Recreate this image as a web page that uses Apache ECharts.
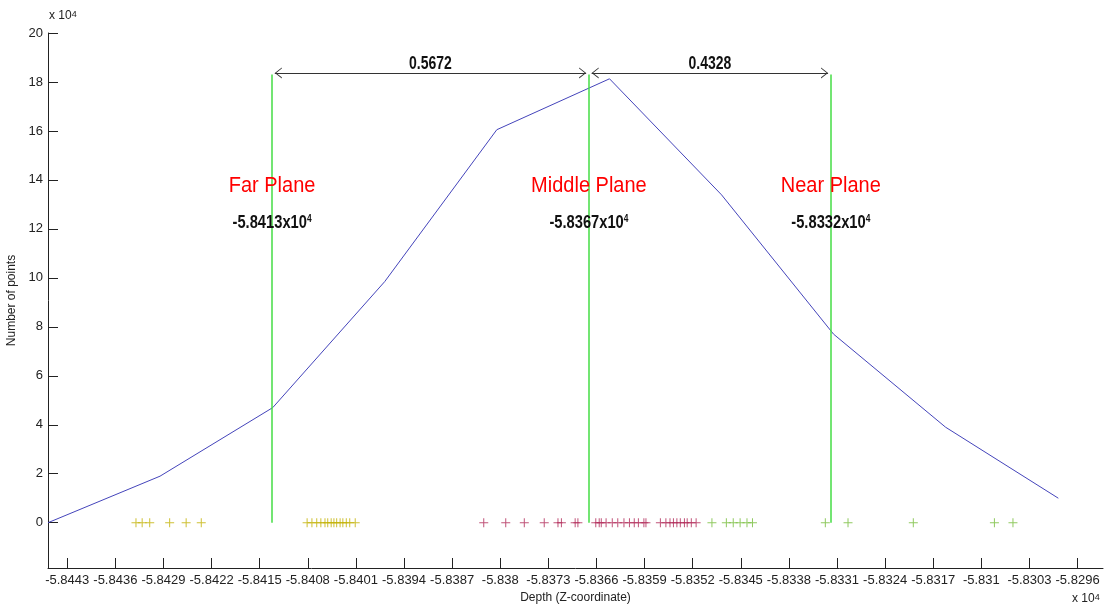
<!DOCTYPE html>
<html><head><meta charset="utf-8">
<script src="https://cdn.jsdelivr.net/npm/echarts@6/dist/echarts.min.js"></script>
<style>html,body{margin:0;padding:0;background:#fff}#c{width:1107px;height:613px}</style>
</head><body><div id="c"></div>
<script>
// ---- data (depth values in units of x10^4, counts in units of x10^4) ----
const xTickLabels = ['-5.8443','-5.8436','-5.8429','-5.8422','-5.8415','-5.8408','-5.8401','-5.8394','-5.8387','-5.838','-5.8373','-5.8366','-5.8359','-5.8352','-5.8345','-5.8338','-5.8331','-5.8324','-5.8317','-5.831','-5.8303','-5.8296'];
const yTickLabels = ['0','2','4','6','8','10','12','14','16','18','20'];
const binDepths = [-5.84458,-5.84295,-5.84131,-5.83968,-5.83805,-5.83641,-5.83478,-5.83315,-5.83152,-5.82988];
const pointCounts = [0,1.9,4.7,9.85,16.05,18.13,13.39,7.7,3.9,1.0];
const farCluster = [-5.8433,-5.84321,-5.8431,-5.84281,-5.84257,-5.84235,-5.84081,-5.84074,-5.84067,-5.84061,-5.84055,-5.84051,-5.84046,-5.84042,-5.84038,-5.84033,-5.84029,-5.84024,-5.84019,-5.84011];
const middleCluster = [-5.83824,-5.83792,-5.83765,-5.83736,-5.83716,-5.83711,-5.83691,-5.83687,-5.83661,-5.83656,-5.83653,-5.83646,-5.83637,-5.83629,-5.8362,-5.83612,-5.83605,-5.83599,-5.83591,-5.83588,-5.83567,-5.83559,-5.83553,-5.83548,-5.83543,-5.83538,-5.83532,-5.83528,-5.83522,-5.83515];
const nearCluster = [-5.83492,-5.83471,-5.83461,-5.83451,-5.83441,-5.83433,-5.83327,-5.83294,-5.83199,-5.83081,-5.83054];
const planeNames = ['Far Plane','Middle Plane','Near Plane'];
const planeDepths = [-5.84132,-5.83671,-5.83319];
const planeValueLabels = ['-5.8413x10','-5.8367x10','-5.8332x10'];
const gapLabels = ['0.5672','0.4328'];

// ---- chart ----
const FONT = "'Liberation Sans', Arial, sans-serif";
const xTickValues = xTickLabels.map(Number);
const yTickValues = yTickLabels.map(Number);
const plus = 'path://M4,0H5V4H9V5H5V9H4V5H0V4H4Z';
// open chevron whose tip sits at the symbol centre (invisible point extends the box)
const chevron = 'path://M0,10L5,0L10,10L9,10L5,2L1,10ZM5,-10L5.01,-10L5,-10Z';
const zeroLine = arr => arr.map(v => [v, 0]);
const PLANE_TOP = 18.3, ARROW_Y = 18.37, ARROW_GAP = 0.00004;
const NAME_Y = 13.75, VALUE_Y = 12.25;

const chart = echarts.init(document.getElementById('c'), null, {renderer:'canvas'});
const expRich = {a: {fontFamily: FONT, fontSize: 12, fill: '#222', verticalAlign: 'bottom'}, b: {fontFamily: FONT, fontSize: 9, fill: '#222', verticalAlign: 'top'}};
const baseGraphic = [
  {type: 'text', left: 49, top: 10, style: {text: '{a|x 10}{b|4}', rich: expRich}},
  {type: 'text', left: 1072, top: 593, style: {text: '{a|x 10}{b|4}', rich: expRich}}
];
const option = {
  animation: false,
  backgroundColor: '#fff',
  grid: {left: 48, right: 4, top: 33, bottom: 45, containLabel: false, outerBoundsMode: 'none'},
  xAxis: {
    type: 'value', min: -5.84458, max: -5.82923,
    name: 'Depth (Z-coordinate)', nameLocation: 'middle', nameGap: 24,
    nameTextStyle: {fontFamily: FONT, fontSize: 12, color: '#222'},
    axisLine: {onZero: false, lineStyle: {color: '#222', width: 1}},
    axisTick: {inside: true, length: 10, customValues: xTickValues, lineStyle: {color: '#222'}},
    axisLabel: {customValues: xTickValues, margin: 6, fontFamily: FONT, fontSize: 13, color: '#222',
      formatter: v => { let i = xTickValues.findIndex(t => Math.abs(t - v) < 1e-7); return i >= 0 ? xTickLabels[i] : ''; }},
    splitLine: {show: false}
  },
  yAxis: {
    type: 'value', min: -1.85, max: 20,
    name: 'Number of points', nameLocation: 'middle', nameGap: 26,
    nameTextStyle: {fontFamily: FONT, fontSize: 12, color: '#222'},
    axisLine: {onZero: false, lineStyle: {color: '#222', width: 1}},
    axisTick: {inside: true, length: 10, customValues: yTickValues, lineStyle: {color: '#222'}},
    axisLabel: {customValues: yTickValues, margin: 5, fontFamily: FONT, fontSize: 13, color: '#222',
      formatter: v => String(Math.round(v))},
    splitLine: {show: false}
  },
  graphic: baseGraphic,
  series: [
    {type: 'scatter', data: zeroLine(farCluster), symbol: plus, symbolSize: 9, itemStyle: {color: '#c2b000'}, z: 3},
    {type: 'scatter', data: zeroLine(middleCluster), symbol: plus, symbolSize: 9, itemStyle: {color: '#b02858'}, z: 3},
    {type: 'scatter', data: zeroLine(nearCluster), symbol: plus, symbolSize: 9, itemStyle: {color: '#74bb38'}, z: 3},
    {
      type: 'line', data: binDepths.map((d, i) => [d, pointCounts[i]]),
      showSymbol: false, symbol: 'none', lineStyle: {color: '#4444bb', width: 1}, z: 4,
      markLine: {
        silent: true, symbol: 'none', animation: false,
        lineStyle: {color: '#44dd44', width: 1.5, type: 'solid'}, label: {show: false},
        data: planeDepths.map(d => [{coord: [d, 0]}, {coord: [d, PLANE_TOP]}])
      }
    },
    {
      type: 'scatter', symbolSize: 0, silent: true, z: 5, data: [],
      markLine: {
        silent: true, animation: false, symbol: [chevron, chevron], symbolSize: [11, 14],
        lineStyle: {color: '#333', width: 1, type: 'solid'}, label: {show: false},
        data: [
          [{coord: [planeDepths[0] + ARROW_GAP, ARROW_Y]}, {coord: [planeDepths[1] - ARROW_GAP, ARROW_Y]}],
          [{coord: [planeDepths[1] + ARROW_GAP, ARROW_Y]}, {coord: [planeDepths[2] - ARROW_GAP, ARROW_Y]}]
        ]
      }
    }
  ]
};
chart.setOption(option);

// annotation texts positioned through the chart's own coordinate system
const px = (x, y) => chart.convertToPixel({gridIndex: 0}, [x, y]);
const ann = [];
planeDepths.forEach((d, i) => {
  const p1 = px(d, NAME_Y);
  ann.push({type: 'text', x: p1[0], y: p1[1], scaleY: 1.12, z: 10,
    style: {text: planeNames[i], fontFamily: FONT, fontSize: 20, fill: '#ff0000', align: 'center', verticalAlign: 'middle'}});
  const p2 = px(d, VALUE_Y);
  ann.push({type: 'text', x: p2[0], y: p2[1], scaleX: 1.05, scaleY: 1.3, z: 10,
    style: {text: '{a|' + planeValueLabels[i] + '}{b|4}', align: 'center', verticalAlign: 'middle',
      rich: {a: {fontFamily: FONT, fontSize: 14, fontWeight: 'bold', fill: '#111', verticalAlign: 'bottom'},
             b: {fontFamily: FONT, fontSize: 8, fontWeight: 'bold', fill: '#111', verticalAlign: 'top'}}}});
});
gapLabels.forEach((g, i) => {
  const p = px((planeDepths[i] + planeDepths[i + 1]) / 2, ARROW_Y);
  ann.push({type: 'text', x: p[0], y: p[1] - 9, scaleY: 1.25, z: 10,
    style: {text: g, fontFamily: FONT, fontSize: 14, fontWeight: 'bold', fill: '#111', align: 'center', verticalAlign: 'middle'}});
});
chart.setOption({graphic: baseGraphic.concat(ann)});
</script></body></html>
